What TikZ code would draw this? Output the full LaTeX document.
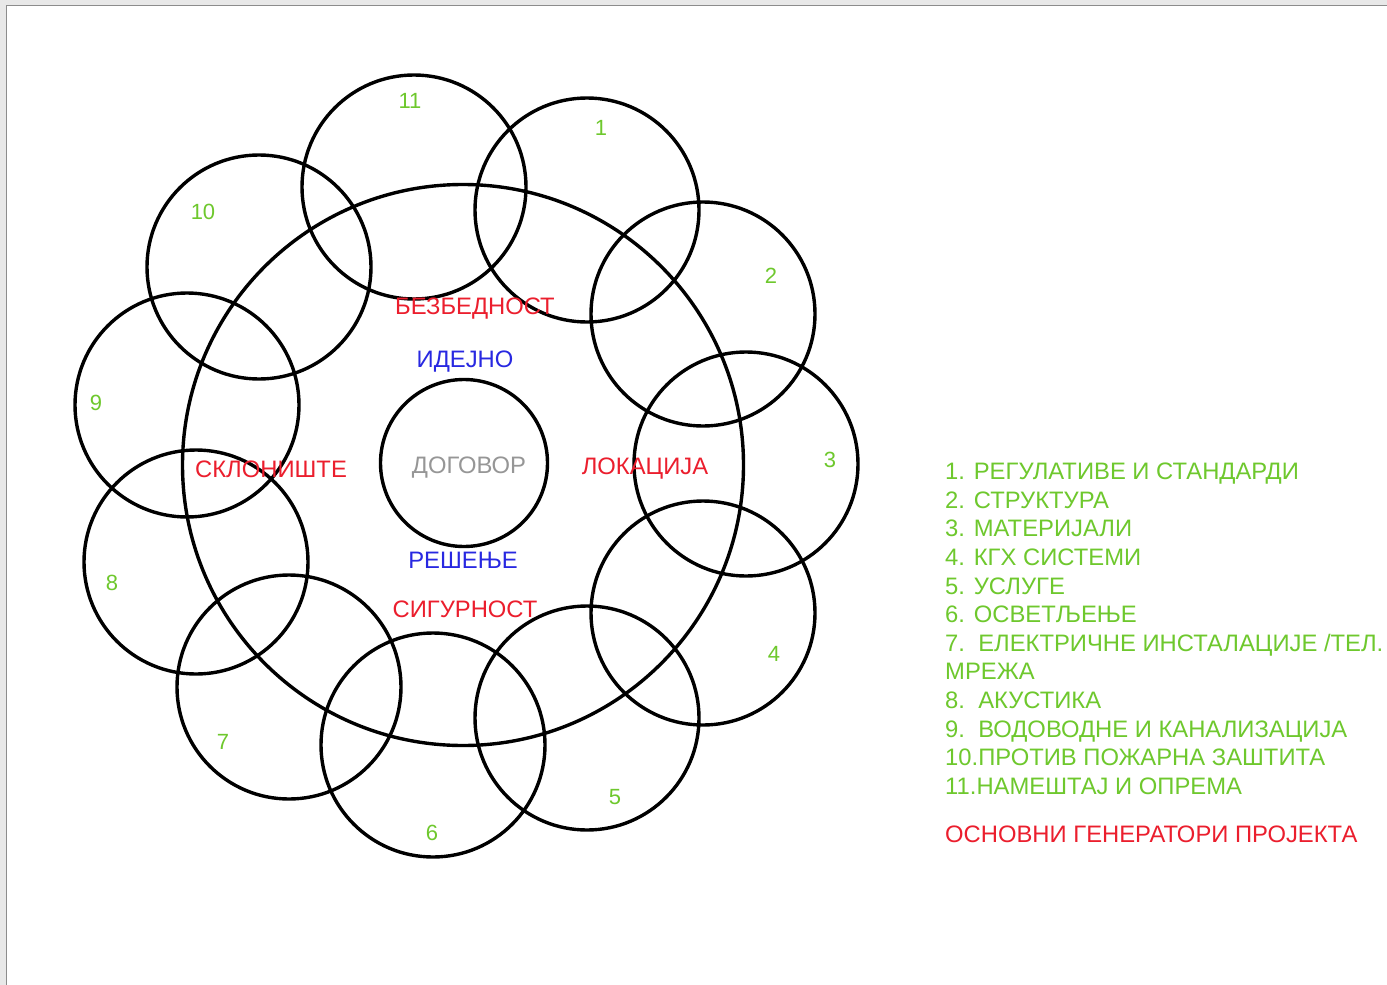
\documentclass[tikz,border=0pt]{standalone}
\usepackage{fontspec}
\setmainfont{Liberation Sans}
\definecolor{lgreen}{RGB}{110,200,45}
\definecolor{lred}{RGB}{235,30,45}
\definecolor{lblue}{RGB}{40,40,225}
\definecolor{lgray}{RGB}{150,150,150}
\definecolor{frameband}{RGB}{232,232,232}
\definecolor{frameline}{RGB}{140,140,140}
\tikzset{
  ring/.style={circle,draw=black,line width=3.4pt,inner sep=0pt,minimum size=224pt},
  bigring/.style={circle,draw=black,line width=3.4pt,inner sep=0pt,minimum size=561pt},
  midring/.style={circle,draw=black,line width=3.4pt,inner sep=0pt,minimum size=167pt},
  num/.style={text=lgreen,font=\fontsize{22}{22}\selectfont,inner sep=0pt},
  word/.style={font=\fontsize{23.8}{23.8}\selectfont,inner sep=0pt},
  listitem/.style={text=lgreen,font=\fontsize{23.8}{23.8}\selectfont,inner sep=0pt,anchor=base west},
}
\begin{document}
\begin{tikzpicture}[x=1pt,y=-1pt]
\useasboundingbox (0,0) rectangle (1387,985);
\fill[white] (0,0) rectangle (1387,985);
% frame
\fill[frameband] (0,0) rectangle (1387,5);
\fill[frameband] (0,0) rectangle (6,985);
\draw[frameline,line width=1.5pt] (6.5,985) -- (6.5,5.5) -- (1387,5.5);
% circles
\node[bigring] (big) at (463,465) {};
\node[midring] (mid) at (464,463) {};
\node[ring] (c1) at (587,210) {};
\node[ring] (c2) at (703,314) {};
\node[ring] (c3) at (746,464) {};
\node[ring] (c4) at (703,613) {};
\node[ring] (c5) at (587,718) {};
\node[ring] (c6) at (433,745) {};
\node[ring] (c7) at (289,687) {};
\node[ring] (c8) at (196,562) {};
\node[ring] (c9) at (187,405) {};
\node[ring] (c10) at (259,267) {};
\node[ring] (c11) at (414,187) {};
% numbers
\node[num] (n1) at (601,128) {1};
\node[num] (n2) at (771,276) {2};
\node[num] (n3) at (830,460) {3};
\node[num] (n4) at (774,654) {4};
\node[num] (n5) at (615,797) {5};
\node[num] (n6) at (432,833) {6};
\node[num] (n7) at (223,742) {7};
\node[num] (n8) at (112,583) {8};
\node[num] (n9) at (96,403) {9};
\node[num] (n10) at (203,212) {10};
\node[num] (n11) at (410,101) {11};
% inner words
\node[word,text=lred] (bez) at (475,309) {БЕЗБЕДНОСТ};
\node[word,text=lblue] (ide) at (465,362) {ИДЕЈНО};
\node[word,text=lgray] (dog) at (469,468) {ДОГОВОР};
\node[word,text=lred] (lok) at (645,469) {ЛОКАЦИЈА};
\node[word,text=lred] (skl) at (271,469) {СКЛОНИШТЕ};
\node[word,text=lblue] (res) at (463,560) {РЕШЕЊЕ};
\node[word,text=lred] (sig) at (465,609) {СИГУРНОСТ};
% list
\node[listitem] (l1) at (945,479.5) {1. РЕГУЛАТИВЕ И СТАНДАРДИ};
\node[listitem] (l2) at (945,508) {2. СТРУКТУРА};
\node[listitem] (l3) at (945,536.5) {3. МАТЕРИЈАЛИ};
\node[listitem] (l4) at (945,565) {4. КГХ СИСТЕМИ};
\node[listitem] (l5) at (945,594) {5. УСЛУГЕ};
\node[listitem] (l6) at (945,622.5) {6. ОСВЕТЉЕЊЕ};
\node[listitem] (l7) at (945,651) {7.\ \ ЕЛЕКТРИЧНЕ ИНСТАЛАЦИЈЕ /ТЕЛ.};
\node[listitem] (l7b) at (945,679.5) {МРЕЖА};
\node[listitem] (l8) at (945,708) {8.\ \ АКУСТИКА};
\node[listitem] (l9) at (945,737) {9.\ \ ВОДОВОДНЕ И КАНАЛИЗАЦИЈА};
\node[listitem] (l10) at (945,765.5) {10.ПРОТИВ ПОЖАРНА ЗАШТИТА};
\node[listitem] (l11) at (945,794) {11.НАМЕШТАЈ И ОПРЕМА};
\node[listitem,text=lred] (title) at (945,842.5) {ОСНОВНИ ГЕНЕРАТОРИ ПРОЈЕКТА};
\end{tikzpicture}
\end{document}
